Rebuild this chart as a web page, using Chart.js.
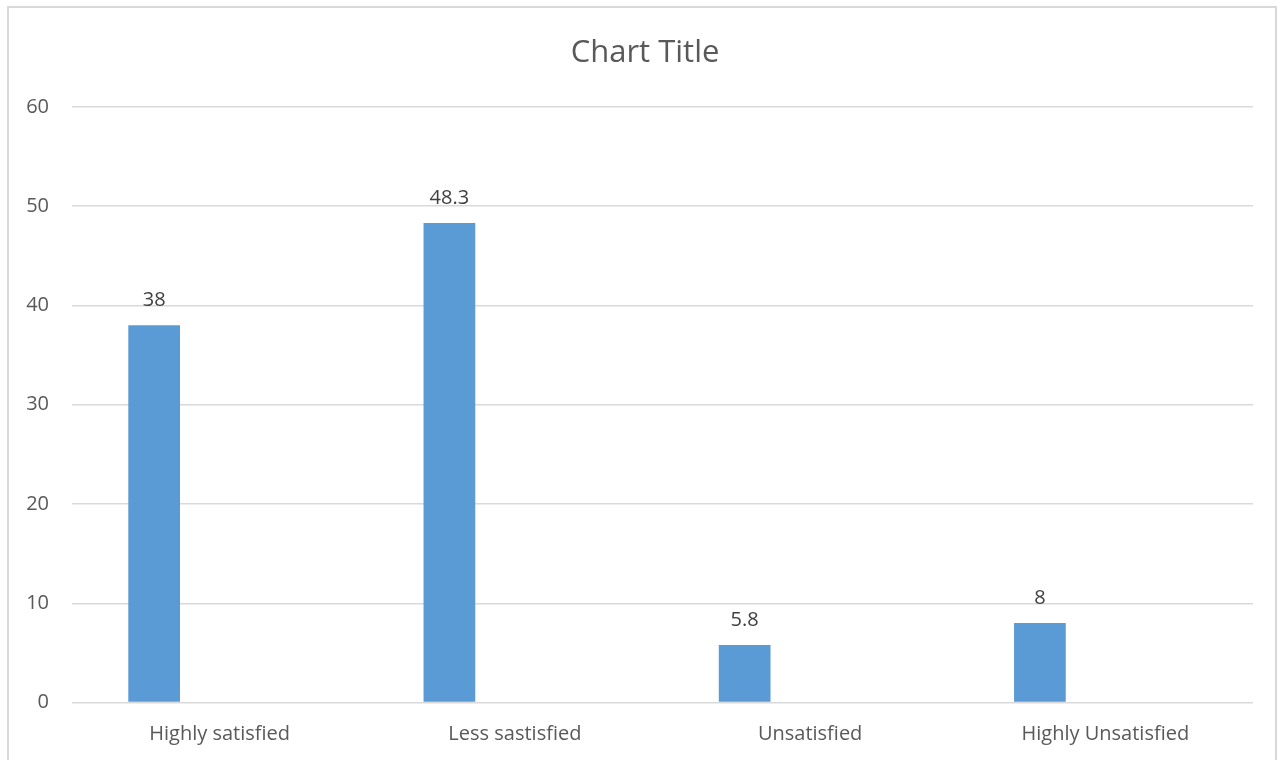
<!DOCTYPE html>
<html>
<head>
<meta charset="utf-8">
<title>Chart Title</title>
<script src="https://cdn.jsdelivr.net/npm/chart.js@4/dist/chart.umd.min.js"></script>
<style>
    html, body { margin: 0; padding: 0; background: #fff; overflow: hidden; }
    #frame {
        position: absolute;
        left: 7px; top: 6px;
        width: 1266px; height: 800px;
        border: 2px solid #d9d9d9;
    }
    #wrap { position: absolute; left: 0; top: 0; width: 1285px; height: 760px; }
</style>
</head>
<body>
<div id="frame"></div>
<div id="wrap"><canvas id="satisfactionChart"></canvas></div>
<script>
const categories = ['Highly satisfied', 'Less sastisfied', 'Unsatisfied', 'Highly Unsatisfied'];
const satisfaction = [38, 48.3, 5.8, 8];
const blankSeries = [null, null, null, null];
const yTicks = [0, 10, 20, 30, 40, 50, 60];
const chartTitle = 'Chart Title';

const FONT = '"Open Sans", Lato, sans-serif';

// Title centred on the whole frame, plus value labels above each bar
const annotate = {
    id: 'annotate',
    afterDatasetsDraw(chart) {
        const ctx = chart.ctx;
        ctx.save();
        ctx.textAlign = 'center';
        ctx.textBaseline = 'middle';

        ctx.font = '31px ' + FONT;
        ctx.fillStyle = '#595959';
        ctx.fillText(chartTitle, 645, 53);

        ctx.font = '20px ' + FONT;
        ctx.fillStyle = '#404040';
        chart.getDatasetMeta(0).data.forEach((bar, i) => {
            const v = satisfaction[i];
            if (v == null) return;
            ctx.fillText(String(v), bar.x, bar.y - 25);
        });
        ctx.restore();
    }
};

document.addEventListener('DOMContentLoaded', function () {
    const canvas = document.getElementById('satisfactionChart');
    new Chart(canvas, {
        type: 'bar',
        data: {
            labels: categories,
            datasets: [{
                label: 'Series 1',
                data: satisfaction,
                backgroundColor: '#5b9bd5',
                categoryPercentage: 0.887,
                barPercentage: 0.395
            }, {
                label: 'Series 2',
                data: blankSeries,
                backgroundColor: '#ed7d31',
                categoryPercentage: 0.887,
                barPercentage: 0.395
            }]
        },
        options: {
            responsive: true,
            maintainAspectRatio: false,
            animation: false,
            layout: { padding: { left: 0, right: 32, top: 107, bottom: 0 } },
            plugins: {
                legend: { display: false },
                tooltip: { enabled: false },
                title: { display: false }
            },
            scales: {
                x: {
                    grid: { display: false, drawTicks: false },
                    border: { display: false },
                    ticks: {
                        color: '#595959',
                        font: { family: FONT, size: 20 },
                        padding: 20,
                        maxRotation: 0
                    },
                    afterFit(scale) { scale.height = 57.5; }
                },
                y: {
                    min: 0,
                    max: 60,
                    afterBuildTicks(scale) {
                        scale.ticks = yTicks.map(v => ({ value: v }));
                    },
                    grid: { color: '#d9d9d9', lineWidth: 1.5, drawTicks: false },
                    border: { display: false },
                    ticks: {
                        color: '#595959',
                        font: { family: FONT, size: 20 },
                        padding: 23
                    },
                    afterFit(scale) { scale.width = 72; }
                }
            }
        },
        plugins: [annotate]
    });
});
</script>
</body>
</html>
